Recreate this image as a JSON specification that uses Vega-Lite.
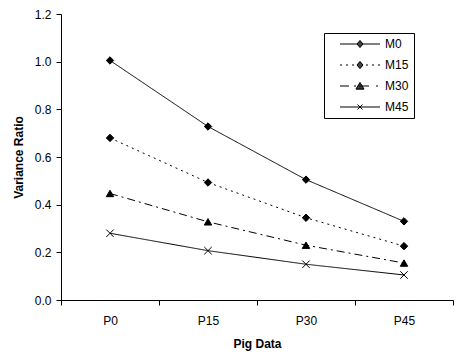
{
  "$schema": "https://vega.github.io/schema/vega-lite/v6.json",
  "autosize": "none",
  "width": 392,
  "height": 286,
  "padding": {"left": 61, "top": 14, "right": 10, "bottom": 62},
  "background": "white",
  "config": {
    "view": {"stroke": null},
    "font": "Liberation Sans",
    "axis": {
      "labelFont": "Liberation Sans",
      "labelFontSize": 12,
      "labelColor": "black",
      "titleFont": "Liberation Sans",
      "titleFontSize": 12,
      "titleFontWeight": "bold",
      "titleColor": "black",
      "domainColor": "black",
      "tickColor": "black",
      "tickSize": 5,
      "grid": false
    },
    "legend": {
      "labelFont": "Liberation Sans",
      "labelFontSize": 12,
      "labelColor": "black"
    }
  },
  "data": {
    "values": [
      {"pig": "P0", "series": "M0", "value": 1.005},
      {"pig": "P15", "series": "M0", "value": 0.728},
      {"pig": "P30", "series": "M0", "value": 0.505},
      {"pig": "P45", "series": "M0", "value": 0.33},
      {"pig": "P0", "series": "M15", "value": 0.68},
      {"pig": "P15", "series": "M15", "value": 0.493},
      {"pig": "P30", "series": "M15", "value": 0.345},
      {"pig": "P45", "series": "M15", "value": 0.226},
      {"pig": "P0", "series": "M30", "value": 0.447},
      {"pig": "P15", "series": "M30", "value": 0.328},
      {"pig": "P30", "series": "M30", "value": 0.23},
      {"pig": "P45", "series": "M30", "value": 0.155},
      {"pig": "P0", "series": "M45", "value": 0.28},
      {"pig": "P15", "series": "M45", "value": 0.207},
      {"pig": "P30", "series": "M45", "value": 0.15},
      {"pig": "P45", "series": "M45", "value": 0.105}
    ]
  },
  "encoding": {
    "x": {
      "field": "pig", "type": "ordinal", "sort": ["P0", "P15", "P30", "P45"],
      "scale": {"type": "band", "paddingInner": 0, "paddingOuter": 0},
      "axis": {"title": "Pig Data", "labelAngle": 0, "tickBand": "extent", "labelPadding": 10, "titlePadding": 12}
    },
    "y": {
      "field": "value", "type": "quantitative",
      "scale": {"domain": [0, 1.2], "nice": false},
      "axis": {"title": "Variance Ratio", "values": [0, 0.2, 0.4, 0.6, 0.8, 1.0, 1.2], "format": ".1f", "labelPadding": 5, "titlePadding": 9}
    }
  },
  "layer": [
    {
      "mark": {"type": "line", "color": "black", "strokeWidth": 1},
      "encoding": {
        "detail": {"field": "series"},
        "strokeDash": {
          "field": "series", "type": "nominal",
          "scale": {"domain": ["M0", "M15", "M30", "M45"], "range": [[1, 0], [2, 4], [8, 4, 2, 4], [1, 0]]},
          "legend": null
        }
      }
    },
    {
      "mark": {"type": "point", "filled": true, "fill": "black", "stroke": "black", "strokeWidth": 1, "opacity": 1, "size": 55},
      "encoding": {
        "shape": {
          "field": "series", "type": "nominal",
          "scale": {"domain": ["M0", "M15", "M30", "M45"], "range": ["diamond", "diamond", "triangle-up", "M-1,-1L1,1M-1,1L1,-1"]},
          "legend": null
        }
      }
    },
    {
      "mark": {"type": "point", "filled": false, "stroke": "black", "strokeWidth": 1, "strokeOpacity": 0, "fillOpacity": 0},
      "encoding": {
        "shape": {
          "field": "series", "type": "nominal",
          "scale": {"domain": ["M0", "M15", "M30", "M45"], "range": [
            "M0.909,0H8.182M4.545,-0.636L5.09,0L4.545,0.636L4,0ZM4.467,-0.545H4.623M4.312,-0.364H4.778M4.156,-0.182H4.934M4.156,0.182H4.934M4.312,0.364H4.778M4.467,0.545H4.623",
            "M0.909,0H1.273M2,0H2.364M3.091,0H3.455M5.636,0H6M6.727,0H7.091M7.818,0H8.182M4,0H5.09M4.545,-0.636L5.09,0L4.545,0.636L4,0ZM4.467,-0.545H4.623M4.312,-0.364H4.778M4.156,-0.182H4.934M4.156,0.182H4.934M4.312,0.364H4.778M4.467,0.545H4.623",
            "M0.909,0H2.545M3.455,0H3.818M4.364,0H6.182M7.455,0H7.818M4.545,-0.636L5.272,0.545L3.818,0.545ZM4.489,-0.545H4.601M4.377,-0.364H4.713M4.265,-0.182H4.825M4.153,0H4.937M4.041,0.182H5.049M3.93,0.364H5.16M3.818,0.545H5.272",
            "M0.909,0H8.182M4.09,-0.4545L5,0.4545M4.09,0.4545L5,-0.4545"
          ]},
          "legend": {
            "title": null,
            "orient": "none",
            "legendX": 263,
            "legendY": 19,
            "strokeColor": "black",
            "padding": 5,
            "symbolSize": 121,
            "symbolStrokeColor": "black",
            "symbolStrokeWidth": 1,
            "labelOffset": 44,
            "rowPadding": 9,
            "labelExpr": "datum.label + '\u00a0\u00a0\u00a0'",
            "encode": {
              "symbols": {"update": {"stroke": {"value": "black"}, "strokeWidth": {"value": 1}, "opacity": {"value": 1}, "strokeOpacity": {"value": 1}}}
            }
          }
        }
      }
    }
  ],
  "resolve": {"scale": {"shape": "independent"}, "legend": {"shape": "independent"}}
}
